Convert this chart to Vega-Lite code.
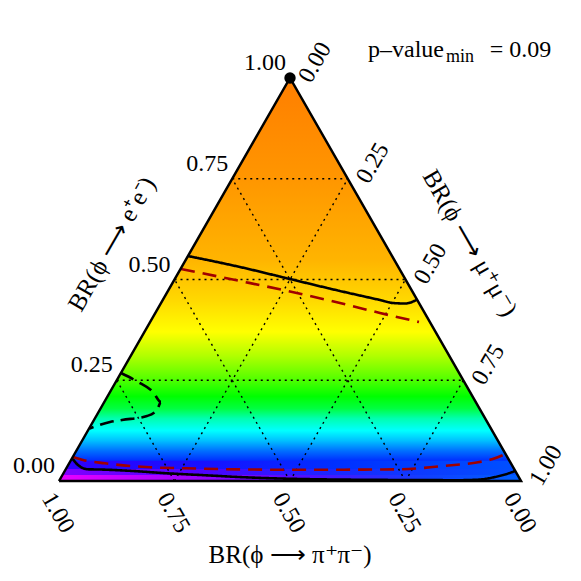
{
  "$schema": "https://vega.github.io/schema/vega-lite/v6.json",
  "width": 581,
  "height": 581,
  "padding": 0,
  "autosize": {"type": "none"},
  "background": "white",
  "config": {"view": {"stroke": null}, "text": {"font": "Liberation Serif", "fontSize": 24, "color": "black"}},
  "layer": [
    {
      "data": {"values": [{"X": 0, "Y": 0}, {"X": 0.5, "Y": 1}, {"X": 1, "Y": 0}]},
      "mark": {"type": "area", "opacity": 1, "color": {"gradient": "linear", "x1": 0, "y1": 1, "x2": 0, "y2": 0, "stops": [
        {"offset": 0.0, "color": "#2000FF"},
        {"offset": 0.045, "color": "#0020FF"},
        {"offset": 0.075, "color": "#0070FF"},
        {"offset": 0.1, "color": "#00C0FF"},
        {"offset": 0.125, "color": "#00FFFF"},
        {"offset": 0.155, "color": "#00FFB0"},
        {"offset": 0.18, "color": "#00FF40"},
        {"offset": 0.21, "color": "#00FF00"},
        {"offset": 0.26, "color": "#60FF00"},
        {"offset": 0.31, "color": "#B0FF00"},
        {"offset": 0.37, "color": "#FFFF00"},
        {"offset": 0.45, "color": "#FFD800"},
        {"offset": 0.55, "color": "#FFB400"},
        {"offset": 0.75, "color": "#FF9600"},
        {"offset": 1.0, "color": "#FF7E00"}
      ]}},
      "encoding": {
        "x": {"field": "X", "type": "quantitative", "scale": {"domain": [-0.12771, 1.12987], "nice": false, "zero": false}, "axis": null},
        "y": {"field": "Y", "type": "quantitative", "scale": {"domain": [-0.24814, 1.19355], "nice": false, "zero": false}, "axis": null},
        "y2": {"datum": 0}
      }
    },
    {
      "data": {"values": [{"X": 0, "Y": 0}, {"X": 0.025, "Y": 0.05}, {"X": 0.975, "Y": 0.05}, {"X": 1, "Y": 0}]},
      "mark": {"type": "area", "opacity": 1, "color": {"gradient": "linear", "x1": 0, "y1": 0, "x2": 1, "y2": 0, "stops": [
        {"offset": 0.0, "color": "#3000FF"},
        {"offset": 0.3, "color": "#1810FF"},
        {"offset": 0.6, "color": "#0030FF"},
        {"offset": 1.0, "color": "#0050FF"}
      ]}},
      "encoding": {
        "x": {"field": "X", "type": "quantitative", "scale": {"domain": [-0.12771, 1.12987], "nice": false, "zero": false}, "axis": null},
        "y": {"field": "Y", "type": "quantitative", "scale": {"domain": [-0.24814, 1.19355], "nice": false, "zero": false}, "axis": null},
        "y2": {"datum": 0}
      }
    },
    {
      "data": {"values": [{"X": 0, "Y": 0}, {"X": 0.015, "Y": 0.03}, {"X": 0.985, "Y": 0.03}, {"X": 1, "Y": 0}]},
      "mark": {"type": "area", "opacity": 1, "color": {"gradient": "linear", "x1": 0, "y1": 0, "x2": 1, "y2": 0, "stops": [
        {"offset": 0.0, "color": "#8000FF"},
        {"offset": 0.3, "color": "#5000FF"},
        {"offset": 0.6, "color": "#1828FF"},
        {"offset": 1.0, "color": "#0050FF"}
      ]}},
      "encoding": {
        "x": {"field": "X", "type": "quantitative", "scale": {"domain": [-0.12771, 1.12987], "nice": false, "zero": false}, "axis": null},
        "y": {"field": "Y", "type": "quantitative", "scale": {"domain": [-0.24814, 1.19355], "nice": false, "zero": false}, "axis": null},
        "y2": {"datum": 0}
      }
    },
    {
      "data": {"values": [{"X": 0, "Y": 0}, {"X": 0.0075, "Y": 0.015}, {"X": 0.9925, "Y": 0.015}, {"X": 1, "Y": 0}]},
      "mark": {"type": "area", "opacity": 1, "color": {"gradient": "linear", "x1": 0, "y1": 0, "x2": 1, "y2": 0, "stops": [
        {"offset": 0.0, "color": "#E800FF"},
        {"offset": 0.25, "color": "#A800FF"},
        {"offset": 0.5, "color": "#5808FF"},
        {"offset": 0.8, "color": "#1040FF"},
        {"offset": 1.0, "color": "#0060FF"}
      ]}},
      "encoding": {
        "x": {"field": "X", "type": "quantitative", "scale": {"domain": [-0.12771, 1.12987], "nice": false, "zero": false}, "axis": null},
        "y": {"field": "Y", "type": "quantitative", "scale": {"domain": [-0.24814, 1.19355], "nice": false, "zero": false}, "axis": null},
        "y2": {"datum": 0}
      }
    },
    {
      "data": {"values": [
        {"X": 0.125, "Y": 0.25, "X2": 0.875, "Y2": 0.25},
        {"X": 0.25, "Y": 0.5, "X2": 0.75, "Y2": 0.5},
        {"X": 0.375, "Y": 0.75, "X2": 0.625, "Y2": 0.75},
        {"X": 0.25, "Y": 0, "X2": 0.625, "Y2": 0.75},
        {"X": 0.5, "Y": 0, "X2": 0.75, "Y2": 0.5},
        {"X": 0.75, "Y": 0, "X2": 0.875, "Y2": 0.25},
        {"X": 0.75, "Y": 0, "X2": 0.375, "Y2": 0.75},
        {"X": 0.5, "Y": 0, "X2": 0.25, "Y2": 0.5},
        {"X": 0.25, "Y": 0, "X2": 0.125, "Y2": 0.25}
      ]},
      "mark": {"type": "rule", "color": "black", "strokeWidth": 1.4, "strokeDash": [2, 4]},
      "encoding": {
        "x": {"field": "X", "type": "quantitative", "scale": {"domain": [-0.12771, 1.12987], "nice": false, "zero": false}, "axis": null},
        "y": {"field": "Y", "type": "quantitative", "scale": {"domain": [-0.24814, 1.19355], "nice": false, "zero": false}, "axis": null},
        "x2": {"field": "X2"},
        "y2": {"field": "Y2"}
      }
    },
    {
      "data": {"values": [
        {"c": "s1", "o": 0, "X": 0.2792, "Y": 0.5583},
        {"c": "s1", "o": 1, "X": 0.3918, "Y": 0.5310},
        {"c": "s1", "o": 2, "X": 0.5, "Y": 0.5012},
        {"c": "s1", "o": 3, "X": 0.6082, "Y": 0.4715},
        {"c": "s1", "o": 4, "X": 0.6948, "Y": 0.4491},
        {"c": "s1", "o": 5, "X": 0.7229, "Y": 0.4417},
        {"c": "s1", "o": 6, "X": 0.7489, "Y": 0.4404},
        {"c": "s1", "o": 7, "X": 0.7641, "Y": 0.4442},
        {"c": "s1", "o": 8, "X": 0.7749, "Y": 0.4504},
        {"c": "s2", "o": 0, "X": 0.0281, "Y": 0.0571},
        {"c": "s2", "o": 1, "X": 0.0411, "Y": 0.0397},
        {"c": "s2", "o": 2, "X": 0.0628, "Y": 0.0290},
        {"c": "s2", "o": 3, "X": 0.0887, "Y": 0.0285},
        {"c": "s2", "o": 4, "X": 0.1602, "Y": 0.0248},
        {"c": "s2", "o": 5, "X": 0.2338, "Y": 0.0191},
        {"c": "s2", "o": 6, "X": 0.3052, "Y": 0.0149},
        {"c": "s2", "o": 7, "X": 0.4134, "Y": 0.0087},
        {"c": "s2", "o": 8, "X": 0.5216, "Y": 0.0050},
        {"c": "s2", "o": 9, "X": 0.7381, "Y": 0.0025},
        {"c": "s2", "o": 10, "X": 0.8680, "Y": 0.0020},
        {"c": "s2", "o": 11, "X": 0.9113, "Y": 0.0037},
        {"c": "s2", "o": 12, "X": 0.9437, "Y": 0.0099},
        {"c": "s2", "o": 13, "X": 0.9654, "Y": 0.0161},
        {"c": "s2", "o": 14, "X": 0.9870, "Y": 0.0248},
        {"c": "d1", "o": 0, "X": 0.1342, "Y": 0.2680},
        {"c": "d1", "o": 1, "X": 0.1710, "Y": 0.2457},
        {"c": "d1", "o": 2, "X": 0.2035, "Y": 0.2208},
        {"c": "d1", "o": 3, "X": 0.2208, "Y": 0.1960},
        {"c": "d1", "o": 4, "X": 0.2121, "Y": 0.1762},
        {"c": "d1", "o": 5, "X": 0.1905, "Y": 0.1613},
        {"c": "d1", "o": 6, "X": 0.1364, "Y": 0.1514},
        {"c": "d1", "o": 7, "X": 0.1104, "Y": 0.1464},
        {"c": "d1", "o": 8, "X": 0.0660, "Y": 0.1303},
        {"c": "r1", "o": 0, "X": 0.2641, "Y": 0.5261},
        {"c": "r1", "o": 1, "X": 0.3918, "Y": 0.4963},
        {"c": "r1", "o": 2, "X": 0.5, "Y": 0.4702},
        {"c": "r1", "o": 3, "X": 0.6082, "Y": 0.4417},
        {"c": "r1", "o": 4, "X": 0.6948, "Y": 0.4169},
        {"c": "r1", "o": 5, "X": 0.7792, "Y": 0.3945},
        {"c": "r2", "o": 0, "X": 0.0303, "Y": 0.0596},
        {"c": "r2", "o": 1, "X": 0.0519, "Y": 0.0521},
        {"c": "r2", "o": 2, "X": 0.0996, "Y": 0.0439},
        {"c": "r2", "o": 3, "X": 0.1970, "Y": 0.0340},
        {"c": "r2", "o": 4, "X": 0.2727, "Y": 0.0315},
        {"c": "r2", "o": 5, "X": 0.4134, "Y": 0.0285},
        {"c": "r2", "o": 6, "X": 0.5216, "Y": 0.0278},
        {"c": "r2", "o": 7, "X": 0.7381, "Y": 0.0290},
        {"c": "r2", "o": 8, "X": 0.8312, "Y": 0.0372},
        {"c": "r2", "o": 9, "X": 0.9004, "Y": 0.0454},
        {"c": "r2", "o": 10, "X": 0.9372, "Y": 0.0538},
        {"c": "r2", "o": 11, "X": 0.9665, "Y": 0.0670}
      ]},
      "mark": {"type": "line", "strokeWidth": 2.6, "interpolate": "monotone"},
      "encoding": {
        "x": {"field": "X", "type": "quantitative", "scale": {"domain": [-0.12771, 1.12987], "nice": false, "zero": false}, "axis": null},
        "y": {"field": "Y", "type": "quantitative", "scale": {"domain": [-0.24814, 1.19355], "nice": false, "zero": false}, "axis": null},
        "order": {"field": "o", "type": "quantitative"},
        "detail": {"field": "c", "type": "nominal"},
        "color": {"field": "c", "type": "nominal", "scale": {"domain": ["s1", "s2", "d1", "r1", "r2"], "range": ["#000000", "#000000", "#000000", "#A00000", "#A00000"]}, "legend": null},
        "strokeDash": {"field": "c", "type": "nominal", "scale": {"domain": ["s1", "s2", "d1", "r1", "r2"], "range": [[1, 0], [1, 0], [14, 7], [14, 8], [14, 8]]}, "legend": null}
      }
    },
    {
      "data": {"values": [{"o": 0, "X": 0, "Y": 0}, {"o": 1, "X": 0.5, "Y": 1}, {"o": 2, "X": 1, "Y": 0}, {"o": 3, "X": 0, "Y": 0}]},
      "mark": {"type": "line", "color": "black", "strokeWidth": 2.5},
      "encoding": {
        "x": {"field": "X", "type": "quantitative", "scale": {"domain": [-0.12771, 1.12987], "nice": false, "zero": false}, "axis": null},
        "y": {"field": "Y", "type": "quantitative", "scale": {"domain": [-0.24814, 1.19355], "nice": false, "zero": false}, "axis": null},
        "order": {"field": "o", "type": "quantitative"}
      }
    },
    {
      "data": {"values": [{"X": 0.5, "Y": 1}]},
      "mark": {"type": "point", "filled": true, "color": "black", "opacity": 1, "size": 130},
      "encoding": {
        "x": {"field": "X", "type": "quantitative", "scale": {"domain": [-0.12771, 1.12987], "nice": false, "zero": false}, "axis": null},
        "y": {"field": "Y", "type": "quantitative", "scale": {"domain": [-0.24814, 1.19355], "nice": false, "zero": false}, "axis": null}
      }
    },
    {
      "data": {"values": [
        {"t": "1.00", "X": 0.5, "Y": 1},
        {"t": "0.75", "X": 0.375, "Y": 0.75},
        {"t": "0.50", "X": 0.25, "Y": 0.5},
        {"t": "0.25", "X": 0.125, "Y": 0.25},
        {"t": "0.00", "X": 0, "Y": 0}
      ]},
      "mark": {"type": "text", "align": "right", "baseline": "middle", "dx": -4, "dy": -15},
      "encoding": {
        "x": {"field": "X", "type": "quantitative", "scale": {"domain": [-0.12771, 1.12987], "nice": false, "zero": false}, "axis": null},
        "y": {"field": "Y", "type": "quantitative", "scale": {"domain": [-0.24814, 1.19355], "nice": false, "zero": false}, "axis": null},
        "text": {"field": "t"}
      }
    },
    {
      "data": {"values": [
        {"t": "0.00", "X": 0.5, "Y": 1},
        {"t": "0.25", "X": 0.625, "Y": 0.75},
        {"t": "0.50", "X": 0.75, "Y": 0.5},
        {"t": "0.75", "X": 0.875, "Y": 0.25},
        {"t": "1.00", "X": 1, "Y": 0}
      ]},
      "mark": {"type": "text", "align": "left", "baseline": "middle", "angle": -60, "dx": 5, "dy": 14},
      "encoding": {
        "x": {"field": "X", "type": "quantitative", "scale": {"domain": [-0.12771, 1.12987], "nice": false, "zero": false}, "axis": null},
        "y": {"field": "Y", "type": "quantitative", "scale": {"domain": [-0.24814, 1.19355], "nice": false, "zero": false}, "axis": null},
        "text": {"field": "t"}
      }
    },
    {
      "data": {"values": [
        {"t": "1.00", "X": 0, "Y": 0},
        {"t": "0.75", "X": 0.25, "Y": 0},
        {"t": "0.50", "X": 0.5, "Y": 0},
        {"t": "0.25", "X": 0.75, "Y": 0},
        {"t": "0.00", "X": 1, "Y": 0}
      ]},
      "mark": {"type": "text", "align": "left", "baseline": "middle", "angle": 60, "dx": 6, "dy": 17},
      "encoding": {
        "x": {"field": "X", "type": "quantitative", "scale": {"domain": [-0.12771, 1.12987], "nice": false, "zero": false}, "axis": null},
        "y": {"field": "Y", "type": "quantitative", "scale": {"domain": [-0.24814, 1.19355], "nice": false, "zero": false}, "axis": null},
        "text": {"field": "t"}
      }
    },
    {
      "data": {"values": [{"t": "BR(ϕ ⟶ e⁺e⁻)"}]},
      "mark": {"type": "text", "align": "center", "baseline": "middle", "angle": -60, "fontSize": 25},
      "encoding": {
        "x": {"datum": 0.1141, "type": "quantitative", "scale": {"domain": [-0.12771, 1.12987], "nice": false, "zero": false}, "axis": null},
        "y": {"datum": 0.5881, "type": "quantitative", "scale": {"domain": [-0.24814, 1.19355], "nice": false, "zero": false}, "axis": null},
        "text": {"field": "t"}
      }
    },
    {
      "data": {"values": [{"t": "BR(ϕ ⟶ μ⁺μ⁻)"}]},
      "mark": {"type": "text", "align": "center", "baseline": "middle", "angle": 60, "fontSize": 25},
      "encoding": {
        "x": {"datum": 0.8896, "type": "quantitative", "scale": {"domain": [-0.12771, 1.12987], "nice": false, "zero": false}, "axis": null},
        "y": {"datum": 0.5906, "type": "quantitative", "scale": {"domain": [-0.24814, 1.19355], "nice": false, "zero": false}, "axis": null},
        "text": {"field": "t"}
      }
    },
    {
      "data": {"values": [{"t": "BR(ϕ ⟶ π⁺π⁻)"}]},
      "mark": {"type": "text", "align": "center", "baseline": "middle", "fontSize": 25},
      "encoding": {
        "x": {"datum": 0.5, "type": "quantitative", "scale": {"domain": [-0.12771, 1.12987], "nice": false, "zero": false}, "axis": null},
        "y": {"datum": -0.1836, "type": "quantitative", "scale": {"domain": [-0.24814, 1.19355], "nice": false, "zero": false}, "axis": null},
        "text": {"field": "t"}
      }
    },
    {
      "data": {"values": [{"t": "p–value"}]},
      "mark": {"type": "text", "align": "left", "baseline": "alphabetic"},
      "encoding": {
        "x": {"datum": 0.6688, "type": "quantitative", "scale": {"domain": [-0.12771, 1.12987], "nice": false, "zero": false}, "axis": null},
        "y": {"datum": 1.0521, "type": "quantitative", "scale": {"domain": [-0.24814, 1.19355], "nice": false, "zero": false}, "axis": null},
        "text": {"field": "t"}
      }
    },
    {
      "data": {"values": [{"t": "min"}]},
      "mark": {"type": "text", "align": "left", "baseline": "alphabetic", "fontSize": 18},
      "encoding": {
        "x": {"datum": 0.8377, "type": "quantitative", "scale": {"domain": [-0.12771, 1.12987], "nice": false, "zero": false}, "axis": null},
        "y": {"datum": 1.0397, "type": "quantitative", "scale": {"domain": [-0.24814, 1.19355], "nice": false, "zero": false}, "axis": null},
        "text": {"field": "t"}
      }
    },
    {
      "data": {"values": [{"t": "=  0.09"}]},
      "mark": {"type": "text", "align": "left", "baseline": "alphabetic"},
      "encoding": {
        "x": {"datum": 0.9325, "type": "quantitative", "scale": {"domain": [-0.12771, 1.12987], "nice": false, "zero": false}, "axis": null},
        "y": {"datum": 1.0521, "type": "quantitative", "scale": {"domain": [-0.24814, 1.19355], "nice": false, "zero": false}, "axis": null},
        "text": {"field": "t"}
      }
    }
  ]
}
